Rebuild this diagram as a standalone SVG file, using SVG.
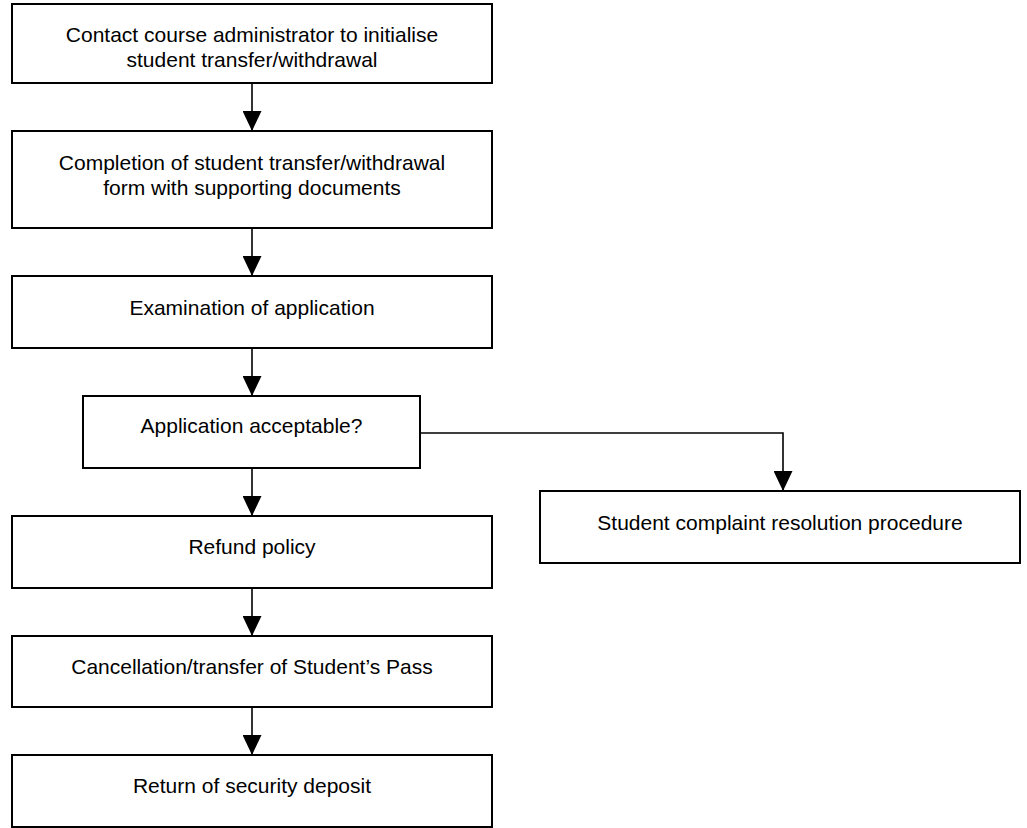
<svg xmlns="http://www.w3.org/2000/svg" width="1027" height="828" viewBox="0 0 1027 828">
<style>
.box{fill:#fff;stroke:#000;stroke-width:2}
.lbl{font-family:"Liberation Sans",Arial,sans-serif;font-size:21px;fill:#000;text-anchor:middle}
.con{fill:none;stroke:#000;stroke-width:1.6}
</style>
<defs>
<marker id="arr" viewBox="0 0 20 19" markerUnits="userSpaceOnUse" markerWidth="20" markerHeight="19" refX="20" refY="9.5" orient="auto">
<path d="M0,0 L20,9.5 L0,19 z" fill="#000"/>
</marker>
</defs>
<rect width="1027" height="828" fill="#fff"/>
<g id="connectors">
<line class="con" x1="252" y1="83" x2="252" y2="131" marker-end="url(#arr)"/>
<line class="con" x1="252" y1="228" x2="252" y2="276" marker-end="url(#arr)"/>
<line class="con" x1="252" y1="348" x2="252" y2="396" marker-end="url(#arr)"/>
<line class="con" x1="252" y1="468" x2="252" y2="516" marker-end="url(#arr)"/>
<line class="con" x1="252" y1="588" x2="252" y2="636" marker-end="url(#arr)"/>
<line class="con" x1="252" y1="707" x2="252" y2="755" marker-end="url(#arr)"/>
<polyline class="con" points="421,433 783,433 783,491" marker-end="url(#arr)"/>
</g>
<g id="n1"><rect class="box" x="12" y="4" width="480" height="79"/>
<text class="lbl" x="252" y="42">Contact course administrator to initialise</text>
<text class="lbl" x="252" y="67">student transfer/withdrawal</text></g>
<g id="n2"><rect class="box" x="12" y="131" width="480" height="97"/>
<text class="lbl" x="252" y="170">Completion of student transfer/withdrawal</text>
<text class="lbl" x="252" y="195">form with supporting documents</text></g>
<g id="n3"><rect class="box" x="12" y="276" width="480" height="72"/>
<text class="lbl" x="252" y="315">Examination of application</text></g>
<g id="n4"><rect class="box" x="83" y="396" width="337" height="72"/>
<text class="lbl" x="251.5" y="433">Application acceptable?</text></g>
<g id="n5"><rect class="box" x="540" y="491" width="480" height="72"/>
<text class="lbl" x="780" y="530">Student complaint resolution procedure</text></g>
<g id="n6"><rect class="box" x="12" y="516" width="480" height="72"/>
<text class="lbl" x="252" y="554">Refund policy</text></g>
<g id="n7"><rect class="box" x="12" y="636" width="480" height="71"/>
<text class="lbl" x="252" y="674">Cancellation/transfer of Student’s Pass</text></g>
<g id="n8"><rect class="box" x="12" y="755" width="480" height="72"/>
<text class="lbl" x="252" y="793">Return of security deposit</text></g>
</svg>
